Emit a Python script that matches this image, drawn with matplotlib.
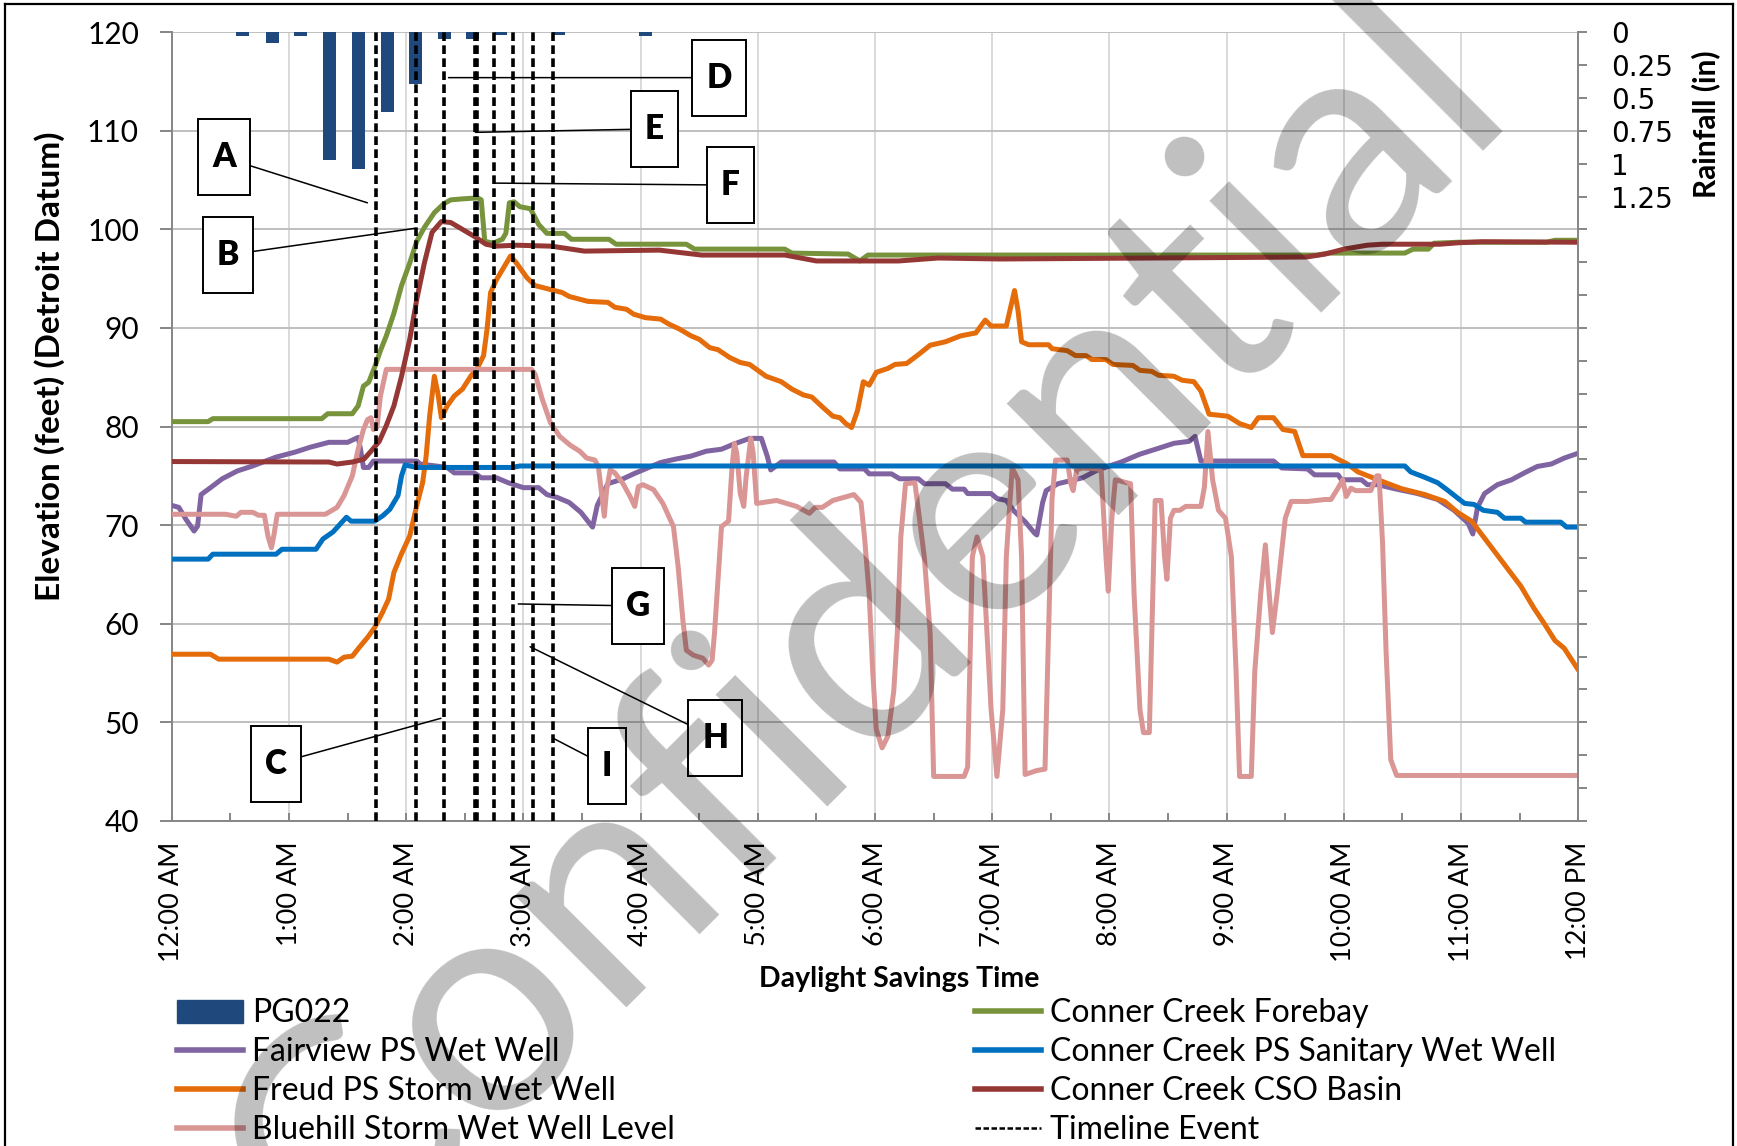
import matplotlib
matplotlib.use("Agg")
import matplotlib.pyplot as plt
from matplotlib.lines import Line2D
from matplotlib.patches import Patch
from matplotlib.path import Path
from matplotlib.ticker import MultipleLocator, FuncFormatter

plt.rcParams['font.family'] = ['Lato', 'DejaVu Sans']

# ---- data (time in hours after midnight) ----
hour_labels = ["12:00 AM", "1:00 AM", "2:00 AM", "3:00 AM", "4:00 AM", "5:00 AM",
               "6:00 AM", "7:00 AM", "8:00 AM", "9:00 AM", "10:00 AM", "11:00 AM",
               "12:00 PM"]

# PG022 rain gauge, 15-minute totals (inches)
rain_hours = [0.605, 0.86, 1.098, 1.346, 1.595, 1.84, 2.08, 2.326, 2.567, 2.81, 3.30, 4.04]
rain_inches = [0.03, 0.08, 0.03, 0.97, 1.04, 0.61, 0.39, 0.05, 0.05, 0.02, 0.02, 0.03]

fairview_t = [0.00, 0.06, 0.12, 0.19, 0.22, 0.25, 0.33, 0.43, 0.56, 0.69,
              0.89, 1.05, 1.18, 1.34, 1.50, 1.59, 1.61, 1.635, 1.68, 1.72,
              2.09, 2.12, 2.35, 2.41, 2.58, 2.64, 2.77, 2.87, 3.00, 3.13,
              3.20, 3.29, 3.39, 3.49, 3.55, 3.59, 3.63, 3.72, 3.85, 3.94,
              4.04, 4.17, 4.30, 4.43, 4.56, 4.69, 4.79, 4.93, 5.03, 5.08,
              5.11, 5.20, 5.65, 5.70, 5.91, 5.95, 6.14, 6.21, 6.37, 6.42,
              6.60, 6.66, 6.76, 6.79, 6.99, 7.04, 7.12, 7.18, 7.28, 7.36,
              7.38, 7.43, 7.46, 7.56, 7.77, 7.90, 8.10, 8.26, 8.42, 8.55,
              8.68, 8.73, 8.78, 9.40, 9.47, 9.69, 9.75, 9.95, 9.98, 10.15,
              10.20, 10.29, 10.43, 10.63, 10.80, 10.94, 11.06, 11.10, 11.14, 11.20,
              11.31, 11.43, 11.54, 11.65, 11.77, 11.88, 12.00]
fairview_ft = [72.0, 71.8, 70.6, 69.4, 69.9, 73.1, 73.8, 74.7, 75.5, 76.0,
               76.9, 77.4, 77.9, 78.4, 78.4, 78.9, 77.7, 75.85, 75.85, 76.5,
               76.5, 76.2, 75.85, 75.3, 75.3, 74.8, 74.8, 74.3, 73.8, 73.8,
               73.1, 72.8, 72.3, 71.3, 70.4, 69.8, 72.0, 74.2, 74.7, 75.2,
               75.7, 76.35, 76.7, 77.0, 77.5, 77.7, 78.2, 78.8, 78.8, 77.0,
               75.6, 76.4, 76.4, 75.7, 75.7, 75.2, 75.2, 74.7, 74.7, 74.2,
               74.2, 73.65, 73.65, 73.2, 73.2, 72.7, 72.5, 71.5, 70.35, 69.2,
               69.0, 72.3, 73.5, 74.2, 74.8, 75.6, 76.4, 77.2, 77.8, 78.3,
               78.5, 79.0, 76.5, 76.5, 75.8, 75.7, 75.1, 75.1, 74.6, 74.6,
               74.1, 74.1, 73.7, 73.2, 72.6, 71.5, 70.2, 69.1, 71.8, 73.2,
               74.1, 74.6, 75.3, 75.95, 76.2, 76.8, 77.3]

freud_t = [0.00, 0.33, 0.40, 1.34, 1.41, 1.47, 1.54, 1.60, 1.67, 1.73,
           1.80, 1.85, 1.895, 1.96, 2.03, 2.09, 2.14, 2.17, 2.20, 2.24,
           2.27, 2.30, 2.35, 2.41, 2.48, 2.55, 2.61, 2.66, 2.69, 2.72,
           2.77, 2.84, 2.89, 2.94, 3.03, 3.10, 3.23, 3.33, 3.39, 3.55,
           3.72, 3.78, 3.88, 3.94, 4.04, 4.17, 4.24, 4.33, 4.43, 4.50,
           4.59, 4.66, 4.76, 4.85, 4.93, 5.07, 5.20, 5.29, 5.39, 5.46,
           5.55, 5.64, 5.70, 5.75, 5.80, 5.85, 5.90, 5.95, 6.01, 6.11,
           6.17, 6.27, 6.37, 6.47, 6.60, 6.73, 6.86, 6.94, 6.99, 7.12,
           7.15, 7.19, 7.22, 7.25, 7.31, 7.48, 7.51, 7.64, 7.71, 7.80,
           7.85, 7.97, 8.03, 8.20, 8.26, 8.36, 8.42, 8.55, 8.62, 8.72,
           8.78, 8.85, 9.01, 9.11, 9.21, 9.27, 9.40, 9.48, 9.58, 9.65,
           9.89, 9.98, 10.03, 10.12, 10.29, 10.49, 10.69, 10.86, 10.97, 11.09,
           11.23, 11.37, 11.51, 11.62, 11.71, 11.80, 11.88, 11.94, 12.00]
freud_ft = [56.9, 56.9, 56.4, 56.4, 56.1, 56.6, 56.7, 57.6, 58.6, 59.6,
            61.2, 62.5, 65.2, 67.1, 68.9, 72.0, 74.3, 77.0, 81.1, 85.1,
            83.4, 80.9, 82.1, 83.1, 83.8, 85.1, 86.0, 87.2, 89.9, 93.6,
            94.9, 96.3, 97.3, 96.6, 95.1, 94.3, 93.9, 93.6, 93.2, 92.7,
            92.6, 92.1, 91.9, 91.4, 91.05, 90.9, 90.4, 89.9, 89.2, 88.85,
            88.0, 87.8, 87.0, 86.5, 86.3, 85.1, 84.55, 83.8, 83.2, 83.0,
            82.0, 81.05, 80.9, 80.3, 79.9, 81.6, 84.55, 84.2, 85.5, 85.9,
            86.3, 86.4, 87.3, 88.25, 88.6, 89.2, 89.5, 90.8, 90.2, 90.2,
            91.75, 93.8, 91.75, 88.6, 88.3, 88.3, 87.9, 87.7, 87.2, 87.2,
            86.8, 86.8, 86.3, 86.2, 85.7, 85.6, 85.2, 85.1, 84.7, 84.55,
            83.6, 81.25, 81.05, 80.3, 79.9, 80.9, 80.9, 79.7, 79.5, 77.05,
            77.05, 76.5, 76.2, 75.4, 74.6, 73.7, 73.1, 72.4, 71.3, 70.4,
            68.2, 66.0, 63.8, 61.6, 60.0, 58.3, 57.5, 56.4, 55.3]

bluehill_t = [0.00, 0.46, 0.55, 0.59, 0.69, 0.74, 0.79, 0.82, 0.85, 0.87,
              0.90, 1.31, 1.41, 1.47, 1.54, 1.59, 1.635, 1.67, 1.70, 1.72,
              1.75, 1.78, 1.83, 3.07, 3.10, 3.16, 3.23, 3.31, 3.40, 3.48,
              3.54, 3.61, 3.64, 3.67, 3.69, 3.71, 3.74, 3.78, 3.85, 3.91,
              3.95, 3.98, 4.02, 4.11, 4.19, 4.28, 4.32, 4.36, 4.39, 4.45,
              4.53, 4.58, 4.61, 4.63, 4.66, 4.69, 4.75, 4.78, 4.80, 4.82,
              4.85, 4.88, 4.90, 4.94, 4.96, 4.99, 5.16, 5.33, 5.44, 5.49,
              5.55, 5.64, 5.82, 5.88, 5.91, 5.95, 5.98, 6.01, 6.06, 6.11,
              6.16, 6.19, 6.22, 6.26, 6.34, 6.37, 6.42, 6.47, 6.50, 6.76,
              6.79, 6.83, 6.87, 6.92, 6.99, 7.04, 7.09, 7.12, 7.17, 7.22,
              7.25, 7.28, 7.38, 7.45, 7.48, 7.51, 7.54, 7.64, 7.67, 7.69,
              7.72, 7.77, 7.90, 7.93, 7.97, 7.99, 8.02, 8.05, 8.18, 8.21,
              8.26, 8.29, 8.34, 8.37, 8.39, 8.44, 8.47, 8.49, 8.52, 8.55,
              8.60, 8.65, 8.78, 8.81, 8.84, 8.88, 8.93, 8.99, 9.04, 9.08,
              9.11, 9.21, 9.24, 9.29, 9.33, 9.35, 9.39, 9.43, 9.50, 9.55,
              9.69, 9.84, 9.89, 9.95, 9.99, 10.02, 10.06, 10.10, 10.23, 10.28,
              10.30, 10.33, 10.36, 10.40, 10.45, 12.00]
bluehill_ft = [71.1, 71.1, 70.9, 71.3, 71.3, 71.0, 71.0, 68.9, 67.7, 68.9,
               71.1, 71.1, 71.8, 73.0, 75.0, 77.7, 79.7, 80.7, 80.9, 79.7,
               79.9, 83.1, 85.8, 85.8, 85.3, 82.8, 80.4, 79.0, 78.1, 77.5,
               76.8, 76.6, 75.9, 72.9, 70.9, 73.6, 75.6, 75.3, 74.2, 72.9,
               71.9, 73.9, 74.1, 73.6, 72.2, 69.85, 65.8, 60.4, 57.3, 56.8,
               56.5, 55.8, 56.3, 59.0, 64.4, 69.85, 70.4, 75.9, 78.3, 77.3,
               73.2, 71.9, 74.9, 78.8, 77.3, 72.2, 72.5, 71.9, 71.2, 71.8,
               71.8, 72.5, 73.1, 72.3, 68.8, 63.0, 55.2, 49.3, 47.4, 48.6,
               53.2, 59.1, 68.8, 74.2, 74.3, 71.5, 66.8, 59.1, 44.5, 44.5,
               45.45, 66.8, 68.8, 66.8, 51.3, 44.5, 51.3, 66.8, 75.8, 74.6,
               66.8, 44.7, 45.1, 45.25, 59.1, 72.7, 76.6, 76.6, 74.2, 73.5,
               75.6, 75.8, 75.7, 75.4, 66.8, 63.3, 70.7, 74.6, 74.2, 63.0,
               51.3, 48.95, 48.95, 63.0, 72.5, 72.5, 66.8, 64.5, 70.7, 71.5,
               71.5, 71.9, 71.9, 73.85, 79.5, 74.6, 71.5, 70.7, 66.8, 55.2,
               44.5, 44.5, 55.2, 63.0, 68.0, 64.9, 59.1, 63.0, 70.7, 72.4,
               72.4, 72.6, 72.6, 73.75, 74.6, 72.9, 73.75, 73.5, 73.5, 75.0,
               75.0, 68.2, 57.2, 46.2, 44.6, 44.6]

forebay_t = [0.00, 0.31, 0.35, 1.28, 1.33, 1.54, 1.59, 1.635, 1.68, 1.73,
             1.78, 1.83, 1.895, 1.96, 2.03, 2.09, 2.155, 2.24, 2.32, 2.38,
             2.48, 2.61, 2.64, 2.67, 2.74, 2.82, 2.85, 2.88, 2.92, 2.97,
             3.06, 3.13, 3.20, 3.35, 3.41, 3.73, 3.79, 4.39, 4.46, 5.23,
             5.29, 5.77, 5.87, 5.94, 9.77, 9.87, 10.52, 10.59, 10.72, 10.77,
             10.98, 11.73, 11.80, 12.00]
forebay_ft = [80.5, 80.5, 80.8, 80.8, 81.3, 81.3, 82.1, 84.1, 84.5, 86.0,
              87.7, 89.2, 91.5, 94.3, 96.6, 98.8, 100.2, 101.7, 102.6, 103.0,
              103.1, 103.2, 103.0, 98.8, 98.6, 99.0, 99.6, 102.7, 102.8, 102.3,
              102.1, 100.5, 99.6, 99.6, 99.0, 99.0, 98.5, 98.5, 98.0, 98.0,
              97.6, 97.5, 96.8, 97.4, 97.4, 97.6, 97.6, 98.0, 98.0, 98.6,
              98.7, 98.7, 98.9, 98.9]

sanitary_t = [0.00, 0.31, 0.35, 0.89, 0.94, 1.23, 1.29, 1.375, 1.49, 1.53,
              1.73, 1.80, 1.86, 1.93, 1.96, 1.99, 2.09, 2.90, 2.97, 10.52,
              10.57, 10.69, 10.80, 10.89, 10.97, 11.03, 11.11, 11.19, 11.31, 11.37,
              11.51, 11.55, 11.85, 11.90, 12.00]
sanitary_ft = [66.55, 66.55, 67.05, 67.05, 67.55, 67.55, 68.6, 69.3, 70.8, 70.4,
               70.4, 70.95, 71.6, 73.0, 75.0, 76.1, 75.85, 75.85, 76.0, 76.0,
               75.4, 74.85, 74.3, 73.5, 72.75, 72.2, 72.1, 71.5, 71.3, 70.7,
               70.7, 70.3, 70.3, 69.8, 69.8]

cso_t = [0.00, 1.34, 1.41, 1.54, 1.64, 1.70, 1.77, 1.83, 1.895, 1.96,
         2.03, 2.09, 2.155, 2.22, 2.30, 2.38, 2.48, 2.58, 2.68, 2.76,
         2.94, 3.24, 3.52, 4.16, 4.52, 5.23, 5.50, 6.20, 6.54, 7.06,
         9.68, 9.84, 10.00, 10.20, 10.33, 10.82, 10.98, 11.18, 12.00]
cso_ft = [76.45, 76.4, 76.2, 76.4, 76.7, 77.5, 78.5, 80.1, 82.1, 85.1,
          88.85, 92.9, 96.6, 99.7, 100.8, 100.7, 100.0, 99.3, 98.5, 98.3,
          98.4, 98.3, 97.8, 97.9, 97.4, 97.4, 96.8, 96.8, 97.1, 97.0,
          97.2, 97.5, 98.0, 98.4, 98.5, 98.5, 98.65, 98.75, 98.7]

event_hours = [1.743, 2.080, 2.325, 2.583, 2.600, 2.749, 2.910, 3.083, 3.252]

# ---- figure ----
W, H = 1737, 1146
fig = plt.figure(figsize=(W / 100, H / 100), dpi=100)
ax = fig.add_axes([171.8 / W, 1 - 820.8 / H, (1578.3 - 171.8) / W, (820.8 - 32.3) / H])

GRID_H = '#BFBFBF'
GRID_V = '#D9D9D9'
AXIS = '#868686'

series = [
    (fairview_t, fairview_ft, '#8064A2', 'Fairview PS Wet Well'),
    (freud_t, freud_ft, '#E46C0A', 'Freud PS Storm Wet Well'),
    (bluehill_t, bluehill_ft, '#D99694', 'Bluehill Storm Wet Well Level'),
    (forebay_t, forebay_ft, '#77933C', 'Conner Creek Forebay'),
    (sanitary_t, sanitary_ft, '#0070C0', 'Conner Creek PS Sanitary Wet Well'),
    (cso_t, cso_ft, '#953735', 'Conner Creek CSO Basin'),
]
for t, v, c, name in series:
    assert len(t) == len(v), name
    ax.plot(t, v, color=c, lw=3.6, solid_joinstyle='round', solid_capstyle='round', zorder=3)

ax.set_xlim(0, 12)
ax.set_ylim(40, 120)
ax.set_xticks(range(13))
ax.set_xticklabels(hour_labels, rotation=90, fontsize=19.5)
ax.xaxis.set_minor_locator(MultipleLocator(0.5))
ax.set_yticks(range(40, 121, 10))
ax.tick_params(axis='y', direction='out', length=8.6, width=1.4, color=AXIS,
               labelsize=21.5, pad=15)
ax.tick_params(axis='x', which='both', direction='in', length=5.5, width=1.4,
               color=AXIS, pad=15)
ax.grid(axis='y', color=GRID_H, lw=1.4, zorder=0)
ax.grid(axis='x', color=GRID_V, lw=1.4, zorder=0)
ax.set_axisbelow(True)
for s in ('top', 'right'):
    ax.spines[s].set_visible(False)
for s in ('left', 'bottom'):
    ax.spines[s].set_color(AXIS)
    ax.spines[s].set_linewidth(1.4)

# rainfall on an inverted secondary axis
ax2 = ax.twinx()
ax2.bar(rain_hours, rain_inches, width=0.1075, color='#1F497D', zorder=2)
ax2.set_ylim(6, 0)
ax2.yaxis.set_major_locator(MultipleLocator(0.25))
ax2.yaxis.set_major_formatter(FuncFormatter(lambda v, p: f"{v:g}" if v <= 1.25 else ""))
ax2.tick_params(axis='y', direction='out', length=6.5, width=1.4, color=AXIS,
                labelsize=20, pad=17)
for lab in ax2.get_yticklabels():
    lab.set_family('DejaVu Sans')
for s in ('top', 'left', 'bottom'):
    ax2.spines[s].set_visible(False)
ax2.spines['right'].set_color(AXIS)
ax2.spines['right'].set_linewidth(1.4)

dash = (0, (2.4, 1.2))
for h in event_hours:
    ax2.axvline(h, color='black', lw=2.6, ls=dash, zorder=4)


def callout_box(x0, y0, width, height, mutation_size):
    """Rectangle that is taller than it is padded wide."""
    px, py = 0.42 * mutation_size, 0.66 * mutation_size
    return Path([(x0 - px, y0 - py), (x0 + width + px, y0 - py),
                 (x0 + width + px, y0 + height + py), (x0 - px, y0 + height + py),
                 (x0 - px, y0 - py)], closed=True)


# event call-outs: letter, box centre (h, ft), leader tip (h, ft)
callouts = [
    ("A", (0.446, 107.3), (1.669, 102.7)),
    ("B", (0.480, 97.4), (2.068, 100.1)),
    ("C", (0.892, 45.8), (2.296, 50.4)),
    ("D", (4.669, 115.4), (2.361, 115.4)),
    ("E", (4.118, 110.2), (2.590, 109.85)),
    ("F", (4.767, 104.5), (2.747, 104.7)),
    ("G", (3.974, 61.8), (2.956, 62.0)),
    ("H", (4.638, 48.4), (3.057, 57.66)),
    ("I", (3.711, 45.55), (3.256, 48.36)),
]
for letter, box, tip in callouts:
    ax2.annotate(letter, xy=tip, xycoords=ax.transData, xytext=box, textcoords=ax.transData,
                 ha='center', va='center', fontsize=24, fontweight='heavy',
                 bbox=dict(boxstyle=callout_box, fc='white', ec='black', lw=1.4),
                 arrowprops=dict(arrowstyle='-', color='black', lw=1.1,
                                 shrinkA=0, shrinkB=0),
                 zorder=6)

# axis titles
fig.text(50 / W, 1 - 366 / H, "Elevation (feet) (Detroit Datum)", rotation=90,
         ha='center', va='center', fontsize=24, fontweight='bold')
fig.text(1706 / W, 1 - 124 / H, "Rainfall (in)", rotation=90,
         ha='center', va='center', fontsize=21.5, fontweight='bold')
fig.text(899.5 / W, 1 - 979 / H, "Daylight Savings Time",
         ha='center', va='center', fontsize=20.5, fontweight='bold')

# legend in two columns
col1 = [Patch(color='#1F497D')] + [Line2D([], [], color=c, lw=4) for _, _, c, _ in series[:3]]
col1_labels = ['PG022'] + [n for _, _, _, n in series[:3]]
col2 = [Line2D([], [], color=c, lw=4) for _, _, c, _ in series[3:]]
col2 += [Line2D([], [], color='black', lw=1.8, ls=(0, (2.2, 1.0)))]
col2_labels = [n for _, _, _, n in series[3:]] + ['Timeline Event']
leg_kw = dict(loc='upper left', frameon=False, borderpad=0, borderaxespad=0,
              handlelength=2.06, handletextpad=0.28, labelspacing=0.28, fontsize=23)
fig.legend(col1, col1_labels, bbox_to_anchor=(177 / W, 1 - 998.5 / H), **leg_kw)
fig.legend(col2, col2_labels, bbox_to_anchor=(975 / W, 1 - 998.5 / H), **leg_kw)

# watermark
fig.text(863 / W, 1 - 632 / H, "Confidential", fontsize=224, color='black', alpha=0.25,
         rotation=45, rotation_mode='anchor', ha='center', va='center', zorder=10)

# outer frame
for xs, ys in (([5 / W, 1733 / W], [1 - 3.5 / H] * 2),
               ([5 / W] * 2, [0, 1 - 3.5 / H]),
               ([1733 / W] * 2, [0, 1 - 3.5 / H])):
    fig.add_artist(Line2D(xs, ys, color='black', lw=1.6))

fig.savefig("out.png", dpi=100)
